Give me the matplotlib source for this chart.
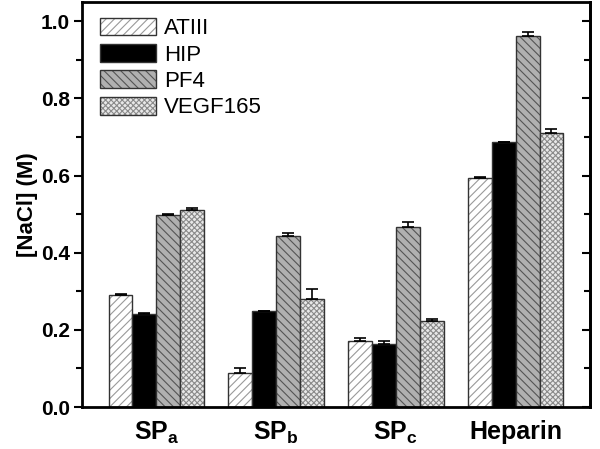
import matplotlib
matplotlib.use("Agg")
import matplotlib.pyplot as plt
import numpy as np
from matplotlib.ticker import MultipleLocator

plt.rcParams['font.family'] = ['Liberation Sans', 'DejaVu Sans']
plt.rcParams['mathtext.fontset'] = 'custom'
plt.rcParams['mathtext.rm'] = 'Liberation Sans:bold'
plt.rcParams['mathtext.it'] = 'Liberation Sans:bold'
plt.rcParams['mathtext.bf'] = 'Liberation Sans:bold'
plt.rcParams['hatch.linewidth'] = 0.8

categories = [r'SP$_\mathregular{a}$', r'SP$_\mathregular{b}$', r'SP$_\mathregular{c}$', 'Heparin']
series = ['ATIII', 'HIP', 'PF4', 'VEGF165']
atiii = [0.290, 0.088, 0.170, 0.595]
hip = [0.240, 0.248, 0.163, 0.687]
pf4 = [0.498, 0.443, 0.467, 0.962]
vegf = [0.510, 0.280, 0.222, 0.710]
atiii_err = [0.002, 0.012, 0.008, 0.002]
hip_err = [0.003, 0.001, 0.007, 0.001]
pf4_err = [0.003, 0.009, 0.013, 0.010]
vegf_err = [0.007, 0.025, 0.006, 0.010]
yticks = [0.0, 0.2, 0.4, 0.6, 0.8, 1.0]

values = [atiii, hip, pf4, vegf]
errors = [atiii_err, hip_err, pf4_err, vegf_err]
faces = ['white', 'black', '#b0b0b0', '#e8e8e8']
hatches = ['////', None, '\\\\\\\\', 'xxxxxx']
hatch_colors = ['#9a9a9a', 'black', '#555555', '#8a8a8a']

fig = plt.figure(figsize=(6, 4.49), dpi=100)
ax = fig.add_axes([0.137, 0.0935, 0.846, 0.902])

x = np.arange(len(categories))
w = 0.2
for i, (vals, errs) in enumerate(zip(values, errors)):
    pos = x + (i - 1.5) * w
    bars = ax.bar(pos, vals, width=w, color=faces[i], edgecolor='#333333', linewidth=1.0,
                  hatch=hatches[i], label=series[i], zorder=2)
    for b in bars:
        b._hatch_color = matplotlib.colors.to_rgba(hatch_colors[i])
    ax.errorbar(pos, vals, yerr=[np.zeros(len(vals)), errs], fmt='none', ecolor='black',
                elinewidth=1.2, capsize=4, capthick=1.2, zorder=3)

ax.set_xlim(-0.62, 3.62)
ax.set_ylim(0, 1.05)
ax.set_xticks(x)
ax.set_xticklabels(categories, fontsize=18, fontweight='bold')
ax.tick_params(axis='x', length=0, pad=9)
ax.set_yticks(yticks)
ax.set_yticklabels([f'{v:.1f}' for v in yticks], fontweight='bold', fontsize=15)
ax.yaxis.set_minor_locator(MultipleLocator(0.1))
ax.tick_params(axis='y', which='both', direction='out', width=1.5, right=False, pad=3)
ax.tick_params(axis='y', which='major', length=6)
ax.tick_params(axis='y', which='minor', length=4)
ax.set_ylabel('[NaCl] (M)', fontsize=16, fontweight='bold', labelpad=2)
for s in ax.spines.values():
    s.set_linewidth(2)

# right-side ticks inward
ax2 = ax.secondary_yaxis('right')
ax2.set_yticks(yticks)
ax2.yaxis.set_minor_locator(MultipleLocator(0.1))
ax2.tick_params(which='both', direction='in', width=1.5, labelright=False)
ax2.tick_params(which='major', length=6)
ax2.tick_params(which='minor', length=4)
ax2.spines['right'].set_linewidth(2)

leg = ax.legend(loc='upper left', bbox_to_anchor=(0.005, 1.0), frameon=False, fontsize=16,
                handlelength=2.5, handleheight=0.85, labelspacing=0.22, handletextpad=0.35,
                borderaxespad=0.3)
fig.savefig('out.png', dpi=100)
